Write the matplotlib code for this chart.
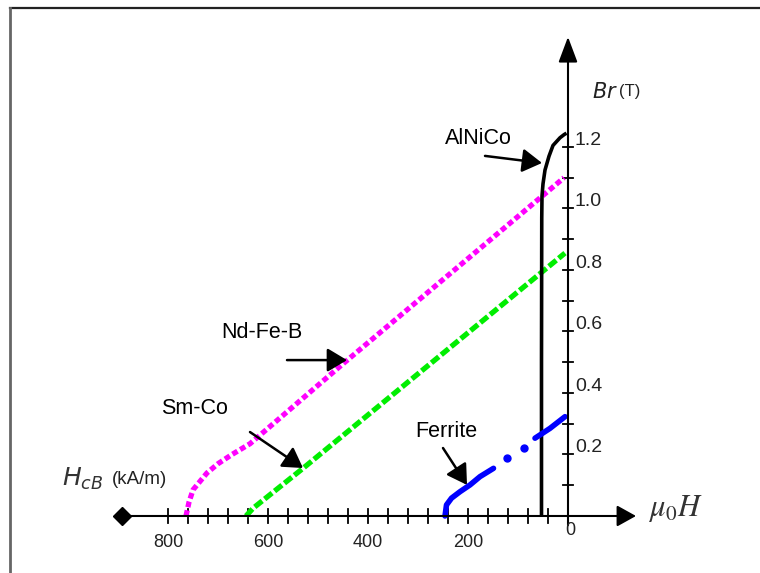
import matplotlib.pyplot as plt
from matplotlib.lines import Line2D

plt.rcParams['font.family'] = ['Liberation Sans', 'DejaVu Sans']
plt.rcParams['mathtext.fontset'] = 'stix'

# demagnetisation curves, H in kA/m (drawn right-to-left), B in T
ndfeb_H = [764, 758, 750, 722, 700, 672, 636, 450, 8]
ndfeb_B = [0.0, 0.045, 0.085, 0.14, 0.17, 0.20, 0.235, 0.495, 1.10]

smco_H = [644, 630, 530, 6]
smco_B = [0.0, 0.025, 0.155, 0.855]

alnico_H = [53, 53, 52.5, 52, 50, 46, 38, 30, 16, 8, 3]
alnico_B = [0.0, 0.5, 0.97, 1.04, 1.08, 1.125, 1.17, 1.205, 1.23, 1.24, 1.245]

ferrite1_H = [246, 243, 233, 216, 196, 176, 149]
ferrite1_B = [0.0, 0.036, 0.058, 0.079, 0.101, 0.128, 0.155]
ferrite_dot_H = [123, 89]
ferrite_dot_B = [0.188, 0.220]
ferrite2_H = [66, 36, 6]
ferrite2_B = [0.253, 0.285, 0.323]

xtick_vals = list(range(40, 801, 40))
xlabel_vals = [800, 600, 400, 200]
ytick_vals = [0.1 * i for i in range(1, 13)]
ylabel_vals = [0.2, 0.4, 0.6, 0.8, 1.0, 1.2]

fig = plt.figure(figsize=(7.6, 5.73), dpi=100)
ax = fig.add_axes([0, 0, 1, 1])
ax.set_xlim(1136, -384)
ax.set_ylim(-0.1854, 1.678)
ax.axis('off')

# frame around the picture
fig.add_artist(Line2D([10 / 760, 1], [1 - 8 / 573, 1 - 8 / 573], color='#222222', lw=1.6))
fig.add_artist(Line2D([10 / 760, 10 / 760], [0, 1 - 8 / 573], color='#666666', lw=2.0))

# axes with arrows
ax.annotate('', xy=(-136, 0), xytext=(892, 0),
            arrowprops=dict(arrowstyle='-|>,head_length=0.9,head_width=0.5',
                            mutation_scale=13, lw=1.5, color='black', shrinkA=0, shrinkB=0))
ax.plot([892], [0], marker='D', markersize=9, color='black')
ax.annotate('', xy=(0, 1.558), xytext=(0, -0.03),
            arrowprops=dict(arrowstyle='-|>,head_length=1.2,head_width=0.45',
                            mutation_scale=13, lw=1.5, color='black', shrinkA=0, shrinkB=0))

for h in xtick_vals:
    ax.plot([h, h], [-0.022, 0.022], color='black', lw=1.3)
for b in ytick_vals:
    ax.plot([10, -10], [b, b], color='black', lw=1.3)

for h in xlabel_vals:
    ax.text(h, -0.085, str(h), ha='center', va='center', fontsize=13, color='#222222')
ax.text(-4, -0.046, '0', ha='center', va='center', fontsize=13, color='#222222')
for b in ylabel_vals:
    ax.text(-14, b + 0.022, f'{b:.1f}', ha='left', va='center', fontsize=14, color='#222222')

# curves
ax.plot(ndfeb_H, ndfeb_B, color='#FF00FF', lw=3.8, linestyle=(0, (1.1, 0.6)))
ax.plot(smco_H, smco_B, color='#00EE00', lw=3.8, linestyle=(0, (1.8, 0.6)))
ax.plot(alnico_H, alnico_B, color='black', lw=2.6, solid_capstyle='butt')
ax.plot(ferrite1_H, ferrite1_B, color='#0000FF', lw=4.0, solid_capstyle='round')
ax.plot(ferrite_dot_H, ferrite_dot_B, 'o', color='#0000FF', markersize=5)
ax.plot(ferrite2_H, ferrite2_B, color='#0000FF', lw=4.0, solid_capstyle='round')

# labels with arrows
arrow_kw = dict(arrowstyle='-|>,head_length=1.0,head_width=0.6', mutation_scale=12,
                lw=1.8, color='black', shrinkA=0, shrinkB=0)
ax.text(180, 1.229, 'AlNiCo', ha='center', va='center', fontsize=15.5)
ax.annotate('', xy=(52, 1.148), xytext=(166, 1.171), arrowprops=arrow_kw)
ax.text(612, 0.598, 'Nd-Fe-B', ha='center', va='center', fontsize=15.5)
ax.annotate('', xy=(442, 0.507), xytext=(562, 0.507), arrowprops=arrow_kw)
ax.text(746, 0.351, 'Sm-Co', ha='center', va='center', fontsize=15.5)
ax.annotate('', xy=(530, 0.156), xytext=(636, 0.273), arrowprops=arrow_kw)
ax.text(244, 0.276, 'Ferrite', ha='center', va='center', fontsize=15.5)
ax.annotate('', xy=(202, 0.101), xytext=(250, 0.221), arrowprops=arrow_kw)

# axis titles
ax.text(-48, 1.379, r'$\mathit{Br}$', ha='left', va='center', fontsize=15,
        math_fontfamily='dejavusans', color='#222222')
ax.text(-102, 1.379, '(T)', ha='left', va='center', fontsize=12, color='#222222')
ax.text(1012, 0.12, r'$H_{cB}$', ha='left', va='center', fontsize=18,
        math_fontfamily='dejavusans', color='#333333')
ax.text(912, 0.12, '(kA/m)', ha='left', va='center', fontsize=13.5, color='#222222')
ax.text(-160, 0.023, r'$\mu_0H$', ha='left', va='center', fontsize=22, color='#333333')

fig.savefig('out.png', dpi=100)
